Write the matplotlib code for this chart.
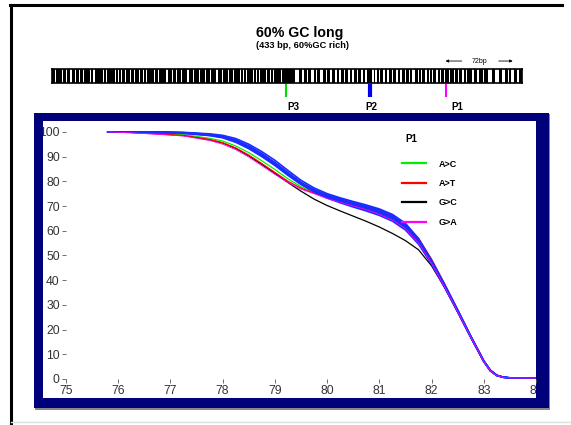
import matplotlib.pyplot as plt
from matplotlib.lines import Line2D
from matplotlib.patches import Rectangle

plt.rcParams['font.family'] = ['Liberation Sans', 'DejaVu Sans']

# melting temperature grid (deg C)
temp = [75.8, 76.25, 76.75, 77.25, 77.75, 78.0, 78.25, 78.5, 78.75, 79.0, 79.25, 79.5,
        79.75, 80.0, 80.25, 80.5, 80.75, 81.0, 81.25, 81.5, 81.75, 82.0, 82.25, 82.5,
        82.75, 83.0, 83.125, 83.25, 83.375, 83.5, 84.0]

# wild-type replicates (blue)
blue_1 = [100, 100, 100, 99.8, 99.2, 98.6, 97.3, 95.0, 92.0, 88.5, 84.4, 80.4, 77.3, 75.0, 73.3,
          71.8, 70.4, 68.8, 66.6, 63.0, 56.8, 48.0, 38.3, 28.0, 17.4, 7.4, 3.6, 1.5, 0.7, 0.45, 0.35]
blue_2 = [100, 100, 99.9, 99.7, 99.0, 98.2, 96.7, 94.3, 91.2, 87.6, 83.5, 79.5, 76.5, 74.2, 72.5,
          71.0, 69.6, 67.9, 65.6, 61.8, 55.8, 47.3, 37.7, 27.6, 17.1, 7.2, 3.4, 1.4, 0.7, 0.45, 0.35]
blue_3 = [100, 100, 99.8, 99.5, 98.6, 97.8, 96.0, 93.5, 90.3, 86.8, 82.8, 79.0, 76.0, 73.5, 71.7,
          70.0, 68.5, 66.8, 64.5, 60.8, 55.0, 46.8, 37.3, 27.3, 17.0, 7.1, 3.3, 1.4, 0.7, 0.45, 0.35]
blue_4 = [100, 100, 99.9, 99.6, 98.8, 98.0, 96.4, 94.0, 90.8, 87.2, 83.2, 79.3, 76.2, 73.9, 72.2,
          70.7, 69.2, 67.5, 65.2, 61.4, 55.4, 47.0, 37.5, 27.4, 17.0, 7.2, 3.4, 1.4, 0.7, 0.45, 0.35]
blue_5 = [100, 100, 99.9, 99.6, 98.9, 98.1, 96.5, 94.1, 91.0, 87.4, 83.4, 79.5, 76.6, 74.5, 72.9,
          71.5, 70.0, 68.4, 66.1, 62.4, 56.2, 47.6, 38.0, 27.8, 17.3, 7.3, 3.5, 1.5, 0.7, 0.45, 0.35]
blue_6 = [100, 100, 99.8, 99.4, 98.5, 97.6, 95.8, 93.2, 90.0, 86.4, 82.4, 78.7, 75.7, 73.2, 71.3,
          69.6, 68.0, 66.2, 63.9, 60.3, 54.6, 46.5, 37.1, 27.2, 16.9, 7.0, 3.3, 1.4, 0.7, 0.45, 0.35]
blue_runs = [blue_1, blue_2, blue_3, blue_4, blue_5, blue_6]

# P1 variants
a_to_c = [100, 99.8, 99.4, 98.9, 97.4, 96.3, 94.3, 91.6, 88.3, 84.8, 81.0, 77.8, 75.4, 73.4, 71.8,
          70.3, 68.8, 67.0, 64.7, 61.0, 55.2, 46.8, 37.3, 27.3, 17.0, 7.1, 3.3, 1.4, 0.7, 0.45, 0.35]
a_to_t = [100, 99.7, 99.2, 98.5, 96.9, 95.6, 93.5, 90.6, 87.2, 83.6, 80.0, 77.2, 75.2, 73.3, 71.8,
          70.4, 69.0, 67.3, 65.2, 62.3, 57.0, 48.5, 38.5, 28.0, 17.5, 7.4, 3.6, 1.6, 0.7, 0.45, 0.35]
g_to_c = [100, 99.8, 99.3, 98.6, 96.8, 95.5, 93.3, 90.3, 86.8, 83.2, 79.5, 76.0, 72.8, 70.2, 68.0,
          65.9, 63.8, 61.5, 58.9, 56.0, 52.3, 45.8, 37.0, 27.0, 16.8, 7.0, 3.3, 1.4, 0.7, 0.45, 0.35]
g_to_a = [100, 99.6, 99.0, 98.3, 96.5, 95.0, 92.8, 89.8, 86.3, 82.8, 79.5, 76.8, 75.0, 73.0, 71.5,
          70.0, 68.5, 66.6, 64.3, 60.8, 55.0, 46.8, 37.3, 27.3, 17.0, 7.1, 3.3, 1.4, 0.7, 0.45, 0.35]

variant_labels = ['A>C', 'A>T', 'G>C', 'G>A']
variant_colors = ['#00ee00', '#ff0000', '#000000', '#ff00ff']

x_ticks = [75, 76, 77, 78, 79, 80, 81, 82, 83, 84]
y_ticks = [0, 10, 20, 30, 40, 50, 60, 70, 80, 90, 100]

# amplicon map: 433 bp, white gaps in the bar (start bp, width bp)
seq_len = 433
gap_start = [3, 6, 9, 13, 17, 21, 25, 29, 31, 35, 38, 42, 47, 50, 53, 58, 61, 64, 67, 72, 76, 80,
             84, 87, 90, 94, 98, 101, 105, 111, 114, 119, 124, 130, 135, 141, 146, 151, 157, 162,
             167, 170, 173, 176, 179, 182, 185, 188, 191, 194, 197, 201, 204, 207, 211,
             224, 230, 235, 239, 243, 247, 252, 256, 261, 264, 269, 273, 276, 281, 285, 288,
             295, 298, 301, 305, 309, 313, 317, 321, 325, 329, 332, 337, 340, 344, 347, 350,
             354, 357, 361, 366, 370, 374, 378, 381, 387, 392, 397, 402, 408, 415, 420, 423, 428]
gap_width = [0.7, 0.7, 0.7, 0.7, 1.2, 0.7, 0.7, 0.7, 0.7, 0.7, 1.2, 0.7, 1.2, 0.7, 0.7, 0.7, 0.7,
             0.7, 1.2, 0.7, 0.7, 0.7, 0.7, 0.7, 0.7, 0.7, 0.7, 0.7, 2, 0.7, 1.2, 0.7, 2, 0.7, 1.2,
             0.7, 0.7, 2, 0.7, 1.2,
             0.7, 0.7, 0.7, 0.7, 0.7, 0.7, 0.7, 0.7, 0.7, 0.7, 0.7, 0.7, 0.7, 0.7, 0.7,
             4, 2, 1.2, 2, 1.2, 3, 1.2, 2, 1.2, 2, 1.2, 1.2, 2, 1.2, 1.2, 2,
             1.2, 1.2, 1.2, 2, 1.2, 1.2, 2, 1.2, 1.2, 1.2, 2, 1.2, 1.2, 1.2, 1.2, 1.2,
             1.2, 1.2, 0.7, 0.7, 1.2, 1.2, 1.2, 1.2, 2, 1.2, 1.2, 3, 4, 2, 1.2, 3, 2]
probe_names = ['P3', 'P2', 'P1']
probe_pos = [216, 293, 363]
probe_label_pos = [222, 294, 373]
probe_colors = ['#00dd00', '#0000ee', '#ff00ff']
probe_widths = [1.5, 3, 1.5]

W, H = 571, 425


def fx(px):
    return px / W


def fy(py):
    return 1 - py / H


fig = plt.figure(figsize=(W / 100, H / 100), dpi=100)

# page frame
fig.add_artist(Line2D([fx(10.5), fx(10.5)], [fy(5), fy(425)], color='black', lw=2.2))
fig.add_artist(Line2D([fx(10), fx(562)], [fy(5), fy(5)], color='black', lw=2.2))
fig.add_artist(Line2D([fx(11), fx(571)], [fy(422), fy(422)], color='#dddddd', lw=1))

fig.text(fx(300), fy(33), '60% GC long', ha='center', va='center',
         fontsize=10.2, fontweight='bold')
fig.text(fx(302), fy(46), '(433 bp, 60%GC rich)', ha='center', va='center',
         fontsize=6.7, fontweight='bold')

# amplicon bar
bar = fig.add_axes([fx(52), fy(83), (522 - 52) / W, 14 / H])
bar.set_facecolor('black')
bar.broken_barh(list(zip(gap_start, gap_width)), (0, 1), facecolors='white')
bar.set_xlim(0, seq_len)
bar.set_ylim(0, 1)
bar.set_xticks([])
bar.set_yticks([])
for s in bar.spines.values():
    s.set_color('black')
    s.set_linewidth(1.2)
for name, pos, lpos, c, lw in zip(probe_names, probe_pos, probe_label_pos, probe_colors, probe_widths):
    bar.plot([pos, pos], [-0.07, -1.0], color=c, lw=lw, clip_on=False, solid_capstyle='butt')
    bar.text(lpos, -1.75, name, ha='center', va='center', fontsize=7, fontweight='bold')
bar.annotate('', xy=(360, 1.57), xytext=(380, 1.57), annotation_clip=False,
             arrowprops=dict(arrowstyle='-|>', color='black', lw=0.6, mutation_scale=4))
bar.annotate('', xy=(427, 1.57), xytext=(409, 1.57), annotation_clip=False,
             arrowprops=dict(arrowstyle='-|>', color='black', lw=0.6, mutation_scale=4))
bar.text(394, 1.57, '72bp', ha='center', va='center', fontsize=5)

# navy panel behind the melt plot
fig.add_artist(Rectangle((fx(35), fy(410)), (550 - 35) / W, (410 - 114) / H,
                         transform=fig.transFigure, facecolor='#888888', edgecolor='none', zorder=-2))
fig.add_artist(Rectangle((fx(34), fy(408)), (549 - 34) / W, (408 - 113) / H,
                         transform=fig.transFigure, facecolor='#00007b', edgecolor='none', zorder=-1))

ax = fig.add_axes([fx(43), fy(398), (536 - 43) / W, (398 - 121) / H])
ax.set_facecolor('white')

# black, green, red under the replicate band, magenta on top
ax.plot(temp, g_to_c, color=variant_colors[2], lw=0.9, label=variant_labels[2])
ax.plot(temp, a_to_c, color=variant_colors[0], lw=0.9, label=variant_labels[0])
ax.plot(temp, a_to_t, color=variant_colors[1], lw=0.9, label=variant_labels[1])
for run in blue_runs:
    ax.plot(temp, run, color='#1a2cff', lw=1.2)
ax.plot(temp, g_to_a, color=variant_colors[3], lw=0.6, label=variant_labels[3])

ax.set_xlim(74.56, 84.0)
ax.set_ylim(-7.7, 104.4)
ax.spines['left'].set_position(('data', 75))
ax.spines['bottom'].set_position(('data', 0))
for s in ax.spines.values():
    s.set_visible(False)
ax.set_xticks(x_ticks)
ax.set_yticks(y_ticks)
ax.tick_params(axis='both', direction='out', length=3, width=0.6, color='#555555',
               labelsize=8.7, labelcolor='#333333', pad=1.5)

ax.text((405 - 43) / 493, (398 - 139) / 277, 'P1', transform=ax.transAxes,
        ha='left', va='center', fontsize=7, fontweight='bold')
handles, labels = ax.get_legend_handles_labels()
lookup = dict(zip(labels, handles))
leg = ax.legend([lookup[l] for l in variant_labels], variant_labels,
                loc='upper left', bbox_to_anchor=((398 - 43) / 493, (398 - 156) / 277),
                frameon=False, fontsize=6.5, handlelength=2.7, handletextpad=1.4,
                labelspacing=1.15, borderaxespad=0)
for t in leg.get_texts():
    t.set_fontweight('bold')
for h in leg.legend_handles:
    h.set_linewidth(1.6)

fig.canvas.draw()
for tick in ax.xaxis.get_major_ticks() + ax.yaxis.get_major_ticks():
    tick.label1.set_clip_on(True)
    tick.label1.set_clip_path(ax.patch)

fig.savefig('out.png', dpi=100)
